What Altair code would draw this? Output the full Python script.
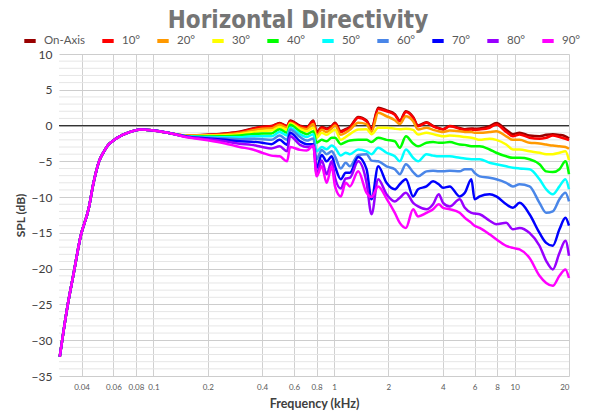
import altair as alt
import pandas as pd

SERIES = ["On-Axis", "10°", "20°", "30°", "40°", "50°", "60°", "70°", "80°", "90°"]
COLORS = ["#990000", "#ff0000", "#ff9900", "#ffff00", "#00ff00",
          "#00ffff", "#4a86e8", "#0000ff", "#9900ff", "#ff00ff"]

X_TICKS = [0.04, 0.06, 0.08, 0.1, 0.2, 0.4, 0.6, 0.8, 1, 2, 4, 6, 8, 10, 20]
Y_TICKS = [-35, -30, -25, -20, -15, -10, -5, 0, 5, 10]
Y_MINOR = [-34, -33, -32, -31, -29, -28, -27, -26, -24, -23, -22, -21, -19, -18, -17, -16,
           -14, -13, -12, -11, -9, -8, -7, -6, -4, -3, -2, -1, 1, 2, 3, 4, 6, 7, 8, 9]

# shared low-frequency part (all angles coincide)
F_LOW = [0.0303, 0.0334, 0.0362, 0.0395, 0.0438, 0.0466, 0.050, 0.053, 0.056, 0.060,
         0.067, 0.075, 0.085, 0.100, 0.120]
LOW = [-32.3, -25.3, -20.6, -15.5, -11.6, -8.0, -5.0, -3.7, -2.75, -2.1,
       -1.35, -0.85, -0.55, -0.7, -1.0]

F_HIGH = [0.154, 0.2, 0.25, 0.3, 0.35, 0.4, 0.45, 0.5, 0.55, 0.571,
          0.648, 0.706, 0.768, 0.801, 0.855, 0.91, 0.971, 1.013, 1.09, 1.16,
          1.224, 1.361, 1.514, 1.613, 1.756, 1.953, 2.171, 2.313, 2.5, 2.741,
          2.921, 3.248, 3.535, 3.8, 4.015, 4.371, 4.963, 5.3, 5.761, 6.0,
          6.403, 7.268, 7.911, 8.986, 9.781, 10.65, 12.09, 13.73, 14.95, 16.27,
          17.71, 19.11, 20.0]

ON_AXIS = [-1.4, -1.3, -1.1, -0.85, -0.45, -0.15, -0.05, 0.35, -0.05, 0.7,
           0.0, -0.25, 0.7, -0.9, -0.2, -0.4, -0.05, 0.4, -0.8, -0.5,
           -0.2, 1.2, 0.7, -0.4, 2.5, 2.1, 1.6, 0.7, 2.0, 1.2,
           0.0, 0.45, -0.05, -0.35, -0.5, -0.05, -0.35, -0.5, -0.4, -0.45,
           -0.4, -0.1, 0.35, -0.6, -1.2, -1.0, -1.4, -1.5, -1.3, -1.2,
           -1.3, -1.5, -1.8]
DEG10 = [-1.4, -1.3, -1.15, -0.9, -0.5, -0.2, -0.1, 0.3, -0.1, 0.6,
         -0.1, -0.3, 0.6, -1.0, -0.3, -0.5, -0.15, 0.3, -0.9, -0.6,
         -0.3, 1.1, 0.6, -0.5, 2.3, 2.0, 1.5, 0.6, 1.9, 1.1,
         -0.1, 0.4, -0.1, -0.4, -0.55, -0.1, -0.45, -0.6, -0.55, -0.6,
         -0.55, -0.3, 0.15, -0.9, -1.5, -1.25, -1.7, -1.85, -1.7, -1.4,
         -1.6, -1.85, -2.05]
DEG20 = [-1.4, -1.35, -1.25, -1.05, -0.7, -0.45, -0.4, 0.1, -0.3, 0.4,
         -0.3, -0.5, 0.2, -1.5, -0.6, -0.9, -0.4, 0.0, -1.3, -1.0,
         -0.6, 0.4, 0.2, -0.9, 1.8, 1.3, 0.75, 0.2, 1.3, 0.6,
         -0.55, -0.3, -0.6, -0.8, -0.9, -0.7, -0.8, -0.9, -0.9, -1.0,
         -1.0, -0.9, -0.8, -1.5, -2.0, -2.0, -2.4, -2.5, -2.65, -2.8,
         -2.9, -3.0, -3.25]
DEG30 = [-1.45, -1.4, -1.35, -1.2, -0.95, -0.75, -0.7, -0.2, -0.6, 0.3,
         -0.5, -0.8, -0.3, -1.7, -1.0, -1.3, -0.8, -0.6, -2.0, -1.6,
         -1.2, -0.55, -0.5, -1.2, -0.3, -0.3, -0.45, -0.5, -0.45, -0.6,
         -1.25, -1.0, -1.2, -1.4, -1.5, -1.4, -1.5, -1.6, -1.7, -1.8,
         -2.0, -1.85, -2.0, -2.65, -3.35, -3.35, -3.6, -3.8, -4.0, -4.0,
         -3.8, -3.6, -4.85]
DEG40 = [-1.5, -1.5, -1.5, -1.4, -1.2, -1.1, -1.1, -0.5, -1.0, 0.1,
         -0.8, -1.2, -0.8, -2.4, -2.0, -2.2, -1.7, -1.7, -2.6, -2.3,
         -2.1, -2.0, -2.0, -2.3, -1.7, -2.0, -2.2, -3.1, -1.5, -2.5,
         -2.9, -2.4, -2.3, -2.4, -2.4, -2.3, -2.65, -2.7, -2.9, -2.9,
         -2.9, -3.35, -3.8, -4.3, -4.5, -4.5, -4.7, -5.4, -6.4, -6.5,
         -6.1, -5.0, -6.8]
DEG50 = [-1.5, -1.6, -1.65, -1.65, -1.5, -1.5, -1.5, -0.9, -1.4, -0.3,
         -1.2, -1.6, -1.2, -3.6, -3.0, -3.3, -2.8, -3.1, -4.2, -3.8,
         -4.0, -3.35, -3.6, -4.0, -3.1, -3.8, -4.3, -5.0, -3.35, -4.5,
         -5.0, -4.0, -4.2, -4.3, -4.3, -4.3, -4.5, -4.6, -4.7, -4.7,
         -4.7, -5.2, -5.4, -5.7, -5.9, -6.0, -6.1, -7.5, -8.9, -9.6,
         -8.5, -7.5, -8.9]
DEG60 = [-1.55, -1.7, -1.8, -1.9, -1.85, -1.9, -2.0, -1.4, -2.0, -0.55,
         -1.6, -2.1, -1.8, -4.7, -3.4, -4.0, -3.6, -4.3, -6.0, -5.2,
         -5.7, -4.1, -4.0, -4.9, -5.0, -5.7, -6.1, -6.8, -5.4, -6.5,
         -7.1, -6.4, -6.3, -6.4, -6.4, -6.3, -6.4, -6.1, -6.1, -6.6,
         -7.1, -7.3, -7.5, -8.0, -8.5, -8.2, -8.5, -10.8, -12.2, -12.0,
         -10.3, -9.4, -10.6]
DEG70 = [-1.55, -1.8, -2.0, -2.2, -2.25, -2.4, -2.6, -2.0, -2.7, -1.0,
         -2.2, -2.6, -2.6, -5.9, -4.1, -5.0, -4.3, -5.7, -7.5, -6.6,
         -6.6, -4.4, -6.1, -10.3, -5.7, -8.0, -8.9, -8.2, -7.5, -9.9,
         -8.9, -8.5, -7.8, -8.2, -8.7, -8.5, -9.9, -9.4, -7.5, -10.3,
         -9.9, -9.6, -9.9, -11.0, -11.5, -10.8, -12.4, -15.0, -16.4, -16.8,
         -14.5, -12.9, -14.0]
DEG80 = [-1.6, -1.9, -2.2, -2.55, -2.7, -3.0, -3.2, -2.9, -3.6, -1.5,
         -2.7, -3.0, -2.9, -6.8, -4.9, -6.8, -5.0, -7.3, -8.8, -7.4,
         -7.3, -5.0, -8.0, -12.4, -7.5, -9.6, -10.6, -10.1, -9.4, -10.8,
         -11.3, -11.7, -11.0, -9.6, -10.8, -11.3, -10.3, -11.5, -12.2, -12.3,
         -12.4, -13.3, -13.8, -13.6, -14.5, -14.3, -15.0, -16.8, -18.9, -20.1,
         -17.8, -16.1, -18.2]
DEG90 = [-1.65, -2.05, -2.5, -3.0, -3.3, -3.8, -4.2, -4.3, -5.0, -3.0,
         -3.4, -3.5, -2.8, -7.1, -5.7, -8.0, -5.7, -8.5, -9.9, -8.0,
         -8.5, -6.4, -9.4, -10.0, -8.5, -10.2, -12.2, -13.6, -14.3, -11.7,
         -12.7, -12.2, -11.7, -11.0, -11.5, -11.7, -12.2, -12.9, -13.6, -14.0,
         -14.3, -15.2, -15.9, -16.8, -17.1, -17.3, -18.5, -21.0, -22.0, -22.4,
         -21.0, -20.1, -21.3]

VALUES = [ON_AXIS, DEG10, DEG20, DEG30, DEG40, DEG50, DEG60, DEG70, DEG80, DEG90]

rows = []
for name, vals in zip(SERIES, VALUES):
    for f, v in zip(F_LOW + F_HIGH, LOW + vals):
        rows.append({"f": f, "spl": v, "series": name})
df = pd.DataFrame(rows)

LABEL_FONT = "Lato"
TITLE_FONT = "Liberation Sans Narrow, DejaVu Sans Condensed, Lato, sans-serif"

xscale = alt.Scale(type="log", domain=[0.03, 20])
yscale = alt.Scale(domain=[-35, 10], nice=False, zero=False)

Y_AXIS = alt.Axis(values=Y_TICKS, title="SPL (dB)", grid=True, ticks=False,
                  domain=False, labelFontSize=12, labelPadding=7, labelColor="#404040",
                  labelOverlap=False,
                  labelFont=LABEL_FONT, titleFont=LABEL_FONT, titleFontSize=12,
                  titleFontWeight="bold", titleColor="#404040", titlePadding=4,
                  gridColor="#cdcdcd")

minor = alt.Chart(pd.DataFrame({"spl": Y_MINOR})).mark_rule(
    color="#e6e6e6", strokeWidth=1
).encode(y=alt.Y("spl:Q", scale=yscale, axis=Y_AXIS))

zero = alt.Chart(pd.DataFrame({"spl": [0]})).mark_rule(
    color="#333333", strokeWidth=1.2
).encode(y=alt.Y("spl:Q", scale=yscale, axis=Y_AXIS))

lines = alt.Chart(df).mark_line(strokeWidth=2.5, strokeJoin="round", interpolate="monotone").encode(
    x=alt.X("f:Q", scale=xscale,
            axis=alt.Axis(values=X_TICKS, title="Frequency (kHz)", grid=True, ticks=False,
                          domain=False, labelFontSize=8, labelPadding=7, labelColor="#595959",
                          labelFont=LABEL_FONT, labelExpr="datum.value + ''",
                          labelOverlap=False,
                          titleFont=LABEL_FONT, titleFontSize=12.5, titleFontWeight="bold",
                          titleColor="#404040", titlePadding=6, gridColor="#d0d0d0")),
    y=alt.Y("spl:Q", scale=yscale, axis=Y_AXIS),
    color=alt.Color("series:N", scale=alt.Scale(domain=SERIES, range=COLORS), sort=SERIES,
                    legend=alt.Legend(orient="none", legendX=-37, legendY=-21,
                                      direction="horizontal", title=None,
                                      symbolType="stroke", symbolStrokeWidth=4,
                                      symbolSize=130, labelFontSize=11.5, labelFont=LABEL_FONT,
                                      labelColor="#595959", columnPadding=8, labelOffset=6,
                                      padding=0)),
    detail="series:N",
)

chart = alt.layer(minor, zero, lines).properties(
    width=510, height=322,
    title=alt.TitleParams("Horizontal Directivity", fontSize=24, font=TITLE_FONT,
                          fontWeight="bold", color="#757575", anchor="middle",
                          dx=-16, dy=4, offset=4),
    autosize=alt.AutoSizeParams(type="none"),
    padding={"left": 51, "top": 46, "right": 15, "bottom": 36},
).configure_view(stroke=None)

chart.save("out.html", embed_options={"renderer": "svg", "actions": False})
